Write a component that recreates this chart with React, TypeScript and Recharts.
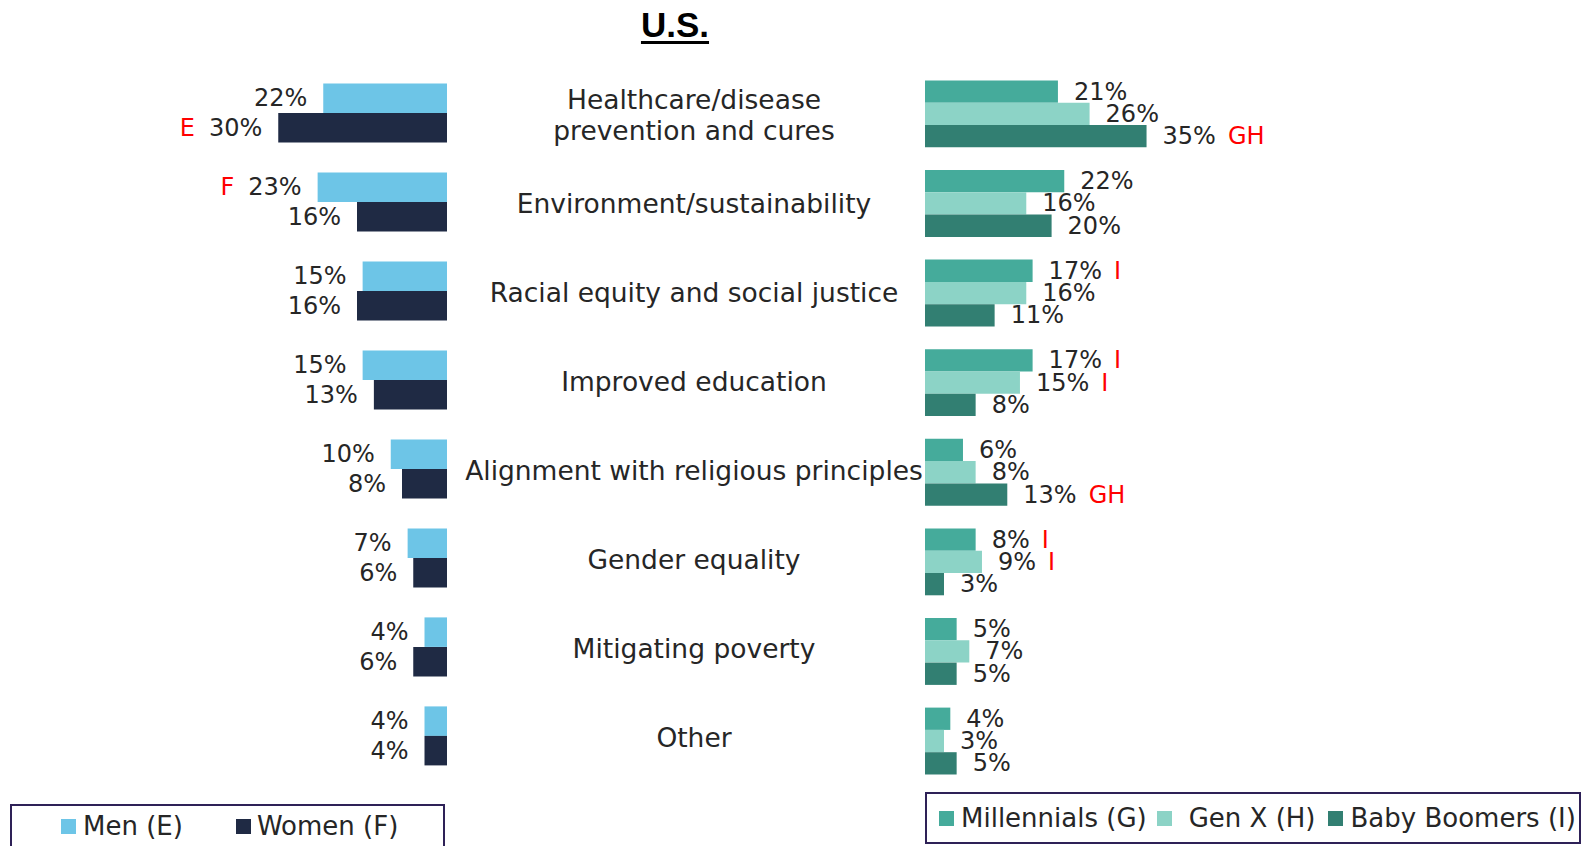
import React from 'react';
import { BarChart, Bar, XAxis, YAxis, LabelList } from 'recharts';

// categories (middle column)
const categories = [
  'Healthcare/disease\nprevention and cures',
  'Environment/sustainability',
  'Racial equity and social justice',
  'Improved education',
  'Alignment with religious principles',
  'Gender equality',
  'Mitigating poverty',
  'Other',
];

// gender split (left)
const men = [22, 23, 15, 15, 10, 7, 4, 4];
const women = [30, 16, 16, 13, 8, 6, 6, 4];
const menSig = ['', 'F', '', '', '', '', '', ''];
const womenSig = ['E', '', '', '', '', '', '', ''];

// generations (right)
const millennials = [21, 22, 17, 17, 6, 8, 5, 4];
const genX = [26, 16, 16, 15, 8, 9, 7, 3];
const boomers = [35, 20, 11, 8, 13, 3, 5, 5];
const millSig = ['', '', 'I', 'I', '', 'I', '', ''];
const genXSig = ['', '', '', 'I', '', 'I', '', ''];
const boomSig = ['GH', '', '', '', 'GH', '', '', ''];

const leftSeries = [
  { key: 'men', name: 'Men (E)', color: '#6DC5E7' },
  { key: 'women', name: 'Women (F)', color: '#1F2A44' },
];
const rightSeries = [
  { key: 'mill', name: 'Millennials (G)', color: '#45AB9B' },
  { key: 'genx', name: 'Gen X (H)', color: '#8CD3C6' },
  { key: 'boom', name: 'Baby Boomers (I)', color: '#327F72' },
];

const leftData = categories.map((name, i) => ({ name, men: men[i], women: women[i] }));
const rightData = categories.map((name, i) => ({
  name,
  mill: millennials[i],
  genx: genX[i],
  boom: boomers[i],
}));

const FONT = '"DejaVu Sans", sans-serif';
const TEXT = '#262626';
const RED = '#FF0000';

const leftLabel = (sigs: string[]) => (props: any) => {
  const { x, y, width, height, value, index } = props;
  const left = Math.min(Number(x), Number(x) + Number(width));
  const sig = sigs[index] || '';
  return (
    <text
      x={left - 16}
      y={Number(y) + Number(height) / 2}
      textAnchor="end"
      dominantBaseline="central"
      fontSize={24}
      fontFamily={FONT}
      fill={TEXT}
    >
      {sig ? <tspan fill={RED}>{sig}</tspan> : null}
      <tspan dx={sig ? 14 : 0}>{value}%</tspan>
    </text>
  );
};

const rightLabel = (sigs: string[]) => (props: any) => {
  const { x, y, width, height, value, index } = props;
  const right = Math.max(Number(x), Number(x) + Number(width));
  const sig = sigs[index] || '';
  return (
    <text
      x={right + 16}
      y={Number(y) + Number(height) / 2}
      textAnchor="start"
      dominantBaseline="central"
      fontSize={24}
      fontFamily={FONT}
      fill={TEXT}
    >
      <tspan>{value}%</tspan>
      {sig ? <tspan dx={12} fill={RED}>{sig}</tspan> : null}
    </text>
  );
};

// category names sit in the gap between the two charts
const CategoryTick = (props: any) => {
  const { y, payload } = props;
  const lines = String(payload && payload.value).split('\n');
  const lh = 31.5;
  return (
    <g>
      {lines.map((line, i) => (
        <text
          key={i}
          x={694}
          y={Number(y) + 2 + (i - (lines.length - 1) / 2) * lh}
          textAnchor="middle"
          dominantBaseline="central"
          fontSize={26.5}
          fontFamily={FONT}
          fill={TEXT}
        >
          {line}
        </text>
      ))}
    </g>
  );
};

const LegendBox = ({ items, style, gaps, textGaps }: any) => (
  <div
    style={{
      position: 'absolute',
      boxSizing: 'border-box',
      border: '2px solid #2E2157',
      display: 'flex',
      alignItems: 'center',
      fontFamily: FONT,
      fontSize: 26,
      color: TEXT,
      whiteSpace: 'nowrap',
      ...style,
    }}
  >
    {items.map((s: any, i: number) => (
      <div key={s.key} style={{ display: 'flex', alignItems: 'center', marginLeft: gaps[i] }}>
        <div style={{ width: 15, height: 15, background: s.color, marginRight: textGaps[i] }} />
        <span>{s.name}</span>
      </div>
    ))}
  </div>
);

export default function App() {
  return (
    <div
      style={{
        position: 'fixed',
        left: 0,
        top: 0,
        width: 1592,
        height: 846,
        background: '#fff',
        overflow: 'hidden',
      }}
    >
      <div
        style={{
          position: 'absolute',
          left: 0,
          top: 7,
          width: 1350,
          textAlign: 'center',
          fontFamily: '"Liberation Sans Narrow", "Liberation Sans", sans-serif',
          fontWeight: 'bold',
          fontSize: 35,
          lineHeight: '35px',
          textDecoration: 'underline',
          textDecorationThickness: 3,
          textUnderlineOffset: 4,
          color: '#000',
        }}
      >
        U.S.
      </div>

      {/* left chart: men vs women, bars grow leftwards */}
      <div style={{ position: 'absolute', left: 0, top: 0 }}>
        <BarChart
          width={940}
          height={846}
          data={leftData}
          layout="vertical"
          barGap={0}
          margin={{ top: 68.4, right: 473, bottom: 65.6, left: 222 }}
        >
          <XAxis type="number" domain={[0, 40]} reversed hide />
          <YAxis
            type="category"
            dataKey="name"
            orientation="right"
            width={20}
            axisLine={false}
            tickLine={false}
            interval={0}
            tick={(p: any) => <CategoryTick {...p} />}
          />
          <Bar dataKey="men" name="Men (E)" fill={leftSeries[0].color} barSize={29.5} isAnimationActive={false}>
            <LabelList dataKey="men" content={leftLabel(menSig)} />
          </Bar>
          <Bar dataKey="women" name="Women (F)" fill={leftSeries[1].color} barSize={29.5} isAnimationActive={false}>
            <LabelList dataKey="women" content={leftLabel(womenSig)} />
          </Bar>
        </BarChart>
      </div>

      {/* right chart: generations */}
      <div style={{ position: 'absolute', left: 900, top: 0 }}>
        <BarChart
          width={692}
          height={846}
          data={rightData}
          layout="vertical"
          barGap={0}
          margin={{ top: 69.4, right: 413.8, bottom: 59.8, left: 25 }}
        >
          <XAxis type="number" domain={[0, 40]} hide />
          <YAxis type="category" dataKey="name" hide />
          <Bar dataKey="mill" name="Millennials (G)" fill={rightSeries[0].color} barSize={22.3} isAnimationActive={false}>
            <LabelList dataKey="mill" content={rightLabel(millSig)} />
          </Bar>
          <Bar dataKey="genx" name="Gen X (H)" fill={rightSeries[1].color} barSize={22.3} isAnimationActive={false}>
            <LabelList dataKey="genx" content={rightLabel(genXSig)} />
          </Bar>
          <Bar dataKey="boom" name="Baby Boomers (I)" fill={rightSeries[2].color} barSize={22.3} isAnimationActive={false}>
            <LabelList dataKey="boom" content={rightLabel(boomSig)} />
          </Bar>
        </BarChart>
      </div>

      <LegendBox
        items={leftSeries}
        style={{ left: 10, top: 804, width: 435, height: 44 }}
        gaps={[49, 53]}
        textGaps={[7, 6]}
      />
      <LegendBox
        items={rightSeries}
        style={{ left: 925, top: 792, width: 656, height: 52 }}
        gaps={[12, 10, 12]}
        textGaps={[7, 17, 8]}
      />
    </div>
  );
}
